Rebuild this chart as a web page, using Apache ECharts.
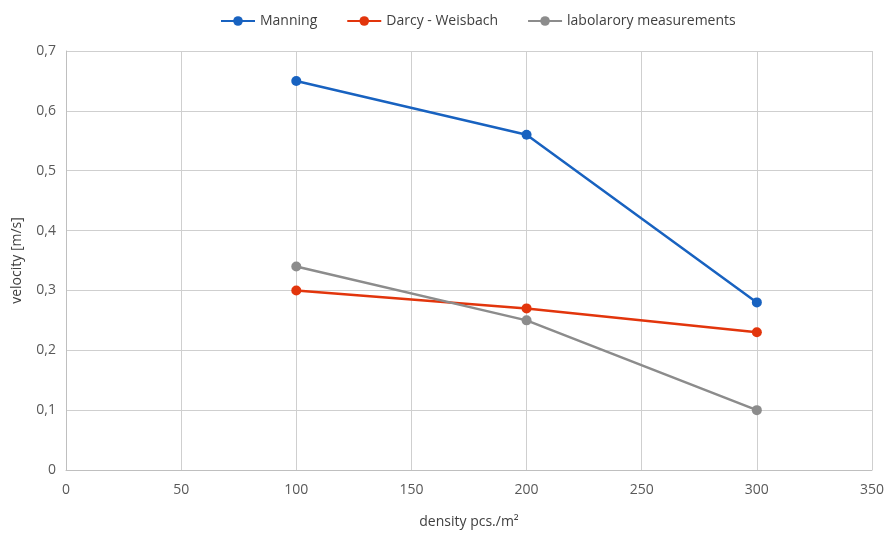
<!DOCTYPE html>
<html><head><meta charset="utf-8">
<script src="https://cdn.jsdelivr.net/npm/echarts@6/dist/echarts.min.js"></script>
<style>html,body{margin:0;padding:0;background:#fff}#c{width:887px;height:534px}</style>
</head><body><div id="c"></div>
<script>
const densities = [100, 200, 300];
const manning = [0.65, 0.56, 0.28];
const darcy = [0.30, 0.27, 0.23];
const lab = [0.34, 0.25, 0.10];
const seriesNames = ['Manning', 'Darcy - Weisbach', 'labolarory measurements'];
const colors = ['#1862C0', '#E2350C', '#8C8C8C'];

const font = 'Open Sans, Noto Sans, sans-serif';
const chart = echarts.init(document.getElementById('c'));
const mk = (name, vals, color) => ({
  name, type: 'line', data: densities.map((d, i) => [d, vals[i]]),
  symbol: 'circle', symbolSize: 10, lineStyle: {width: 2.5, color}, itemStyle: {color},
  emphasis: {disabled: true}, animation: false
});
chart.setOption({
  animation: false,
  textStyle: {fontFamily: font},
  legend: {top: 9, left: 215, itemWidth: 34, itemHeight: 12, itemGap: 29,
    textStyle: {fontSize: 14, color: '#404040', fontFamily: font},
    data: seriesNames},
  grid: {left: 66, right: 15, top: 51, bottom: 64},
  xAxis: {type: 'value', min: 0, max: 350, interval: 50,
    name: 'density pcs./m²', nameLocation: 'middle', nameGap: 45,
    nameTextStyle: {fontSize: 14, color: '#404040'},
    axisLine: {lineStyle: {color: '#BFBFBF'}}, axisTick: {show: false},
    axisLabel: {fontSize: 14, color: '#595959', margin: 13},
    splitLine: {show: true, lineStyle: {color: '#CFCFCF', width: 1}}},
  yAxis: {type: 'value', min: 0, max: 0.7, interval: 0.1,
    name: 'velocity [m/s]', nameLocation: 'middle', nameGap: 42,
    nameTextStyle: {fontSize: 14, color: '#404040'},
    axisLine: {show: true, lineStyle: {color: '#BFBFBF'}}, axisTick: {show: false},
    axisLabel: {fontSize: 14, color: '#595959', margin: 10,
      formatter: v => String(Math.round(v*10)/10).replace('.', ',')},
    splitLine: {show: true, lineStyle: {color: '#CFCFCF', width: 1}}},
  series: [mk(seriesNames[0], manning, colors[0]), mk(seriesNames[1], darcy, colors[1]), mk(seriesNames[2], lab, colors[2])]
});
</script></body></html>
